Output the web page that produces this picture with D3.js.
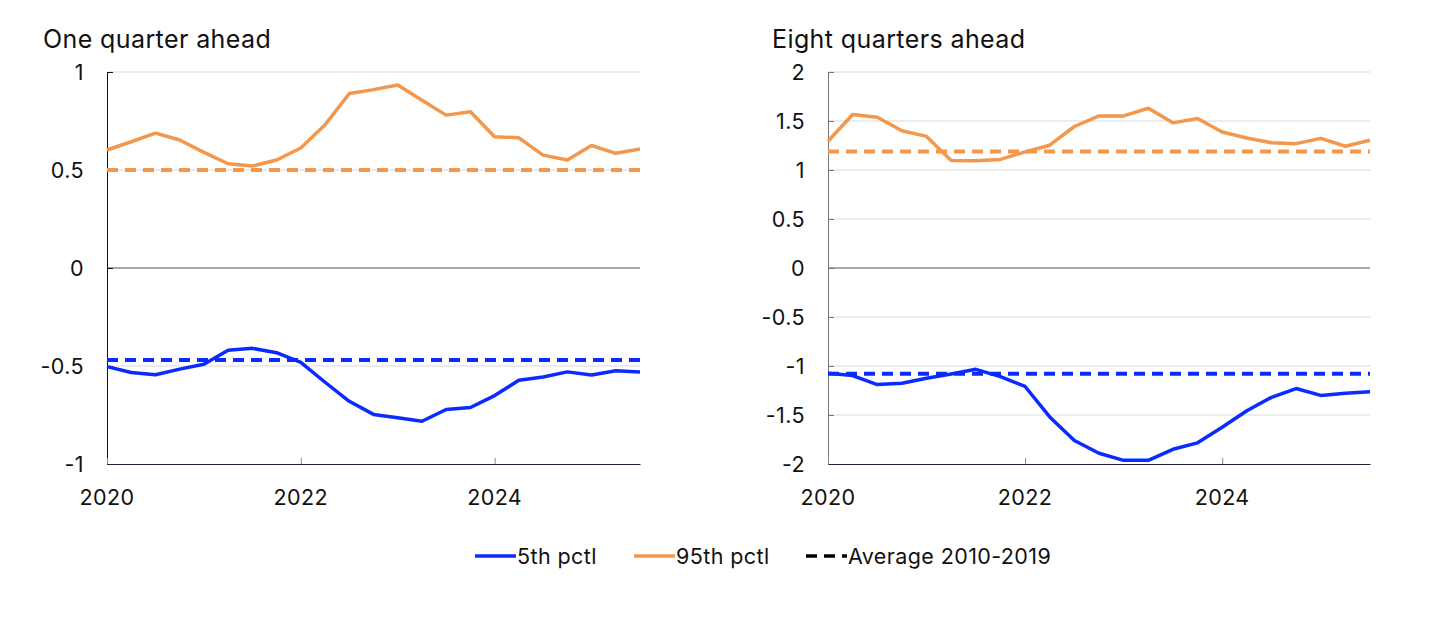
<!DOCTYPE html>
<html><head><meta charset="utf-8">
<script src="https://cdn.jsdelivr.net/npm/d3@7/dist/d3.min.js"></script>
<style>
body{margin:0;background:#fff;}
svg text{font-family:Inter, "Noto Sans", sans-serif;fill:#111;letter-spacing:0.4px;}
</style></head>
<body><svg id="c" width="1445" height="617"></svg>
<script>
const quarters = ["2020Q1","2020Q2","2020Q3","2020Q4","2021Q1","2021Q2","2021Q3","2021Q4",
  "2022Q1","2022Q2","2022Q3","2022Q4","2023Q1","2023Q2","2023Q3","2023Q4",
  "2024Q1","2024Q2","2024Q3","2024Q4","2025Q1","2025Q2","2025Q3"];
const oneQ_p95 = [0.602,0.644,0.688,0.653,0.59,0.532,0.52,0.551,0.612,0.731,0.89,0.91,0.934,0.856,0.78,0.797,0.67,0.664,0.576,0.551,0.625,0.585,0.607];
const oneQ_p5  = [-0.503,-0.533,-0.545,-0.516,-0.491,-0.42,-0.41,-0.432,-0.482,-0.583,-0.68,-0.747,-0.764,-0.782,-0.722,-0.712,-0.651,-0.573,-0.556,-0.53,-0.546,-0.524,-0.53];
const oneQ_avg95 = 0.5;
const oneQ_avg5 = -0.47;
const eightQ_p95 = [1.293,1.566,1.539,1.40,1.343,1.098,1.094,1.108,1.185,1.253,1.444,1.552,1.552,1.63,1.481,1.525,1.387,1.327,1.279,1.269,1.323,1.242,1.303];
const eightQ_p5  = [-1.074,-1.098,-1.189,-1.176,-1.125,-1.081,-1.034,-1.108,-1.209,-1.52,-1.76,-1.89,-1.963,-1.963,-1.85,-1.784,-1.625,-1.456,-1.32,-1.23,-1.30,-1.277,-1.264];
const eightQ_avg95 = 1.19;
const eightQ_avg5 = -1.08;
const xTickLabels = ["2020","2022","2024"];
const oneQ_yTicks = [-1,-0.5,0,0.5,1];
const eightQ_yTicks = [-2,-1.5,-1,-0.5,0,0.5,1,1.5,2];
const legendLabels = ["5th pctl","95th pctl","Average 2010-2019"];

const BLUE = "#0a2bff", ORANGE = "#f2974b";
const svg = d3.select("#c");
const toYear = q => +q.slice(0,4) + (+q.slice(5)-1)/4;

function panel(opt){
  const g = svg.append("g");
  const x = d3.scaleLinear().domain([2020, toYear(quarters[quarters.length-1])]).range([opt.x0, opt.x1]);
  const y = d3.scaleLinear().domain(opt.ydom).range([464, 72]);
  g.selectAll(".grid").data(opt.yTicks.filter(v => v !== opt.ydom[0])).enter().append("line")
    .attr("x1", opt.x0).attr("x2", opt.x1).attr("y1", d=>y(d)).attr("y2", d=>y(d))
    .attr("stroke", d => d===0 ? "#555" : "#d9d9d9").attr("stroke-width", 1);
  const ya = g.append("g").attr("transform", `translate(${opt.x0},0)`)
    .call(d3.axisRight(y).tickValues(opt.yTicks).tickSize(6).tickFormat(""));
  ya.select(".domain").attr("stroke", opt.axisColor);
  ya.selectAll(".tick line").attr("stroke", opt.axisColor);
  g.selectAll(".ylab").data(opt.yTicks).enter().append("text")
    .attr("x", opt.x0 - 23).attr("y", d=>y(d)).attr("dy","0.36em")
    .attr("text-anchor","end").attr("font-size", 21.5).text(d => d3.format("")(d).replace("−","-"));
  const xa = g.append("g").attr("transform", `translate(0,464)`)
    .call(d3.axisTop(x).tickValues(xTickLabels.map(Number)).tickSize(6).tickFormat("").tickSizeOuter(0));
  xa.select(".domain").attr("stroke", "#1a2233");
  xa.selectAll(".tick line").attr("stroke", "#888");
  g.selectAll(".xlab").data(xTickLabels).enter().append("text")
    .attr("x", d => x(+d)).attr("y", 505).attr("text-anchor","middle").attr("font-size", 21.5).text(d=>d);
  g.append("text").attr("x", opt.tx).attr("y", 48).attr("font-size", 25).text(opt.title);
  [[opt.avg95, ORANGE],[opt.avg5, BLUE]].forEach(([v,c]) => {
    g.append("line").attr("x1", opt.x0).attr("x2", opt.x1).attr("y1", y(v)).attr("y2", y(v))
      .attr("stroke", c).attr("stroke-width", 4).attr("stroke-dasharray","11,7");
  });
  const line = d3.line().x((d,i)=>x(toYear(quarters[i]))).y(d=>y(d));
  [[opt.p95, ORANGE],[opt.p5, BLUE]].forEach(([arr,c]) => {
    g.append("path").attr("d", line(arr)).attr("fill","none").attr("stroke", c)
      .attr("stroke-width", 3.5).attr("stroke-linejoin","round");
  });
}

panel({x0:107, x1:640, ydom:[-1,1], yTicks:oneQ_yTicks, axisColor:"#111", title:"One quarter ahead", tx:43,
  p95:oneQ_p95, p5:oneQ_p5, avg95:oneQ_avg95, avg5:oneQ_avg5});
panel({x0:828, x1:1370, ydom:[-2,2], yTicks:eightQ_yTicks, axisColor:"#777", title:"Eight quarters ahead", tx:772,
  p95:eightQ_p95, p5:eightQ_p5, avg95:eightQ_avg95, avg5:eightQ_avg5});

const leg = svg.append("g");
const items = [{x:475, c:BLUE, dash:null},{x:634, c:ORANGE, dash:null},{x:806, c:"#000", dash:"11,7"}];
items.forEach((it,i) => {
  leg.append("line").attr("x1", it.x).attr("x2", it.x+41).attr("y1", 556).attr("y2", 556)
    .attr("stroke", it.c).attr("stroke-width", 3.5).attr("stroke-dasharray", it.dash);
  leg.append("text").attr("x", it.x+42).attr("y", 556).attr("dy","0.36em").attr("font-size", 21.5).text(legendLabels[i]);
});
</script></body></html>
